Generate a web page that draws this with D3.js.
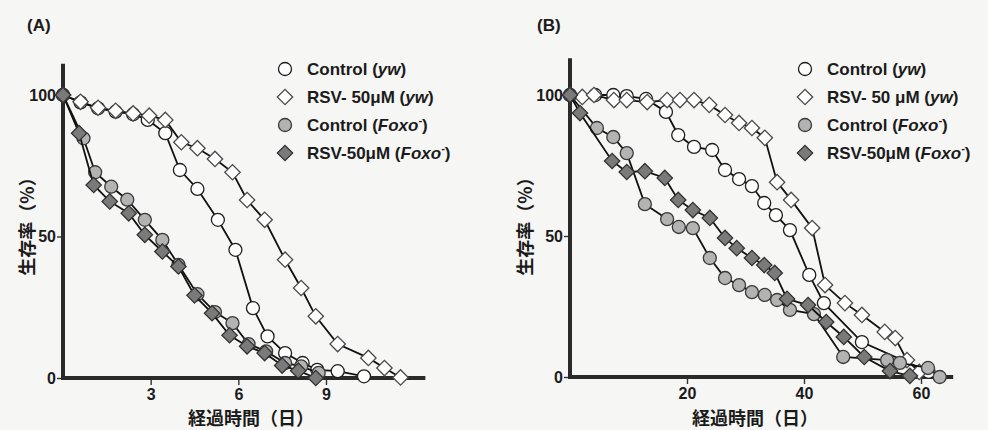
<!DOCTYPE html>
<html>
<head>
<meta charset="utf-8">
<title>生存率</title>
<script src="https://d3js.org/d3.v7.min.js"></script>
<style>
body { margin:0; background:#f6f6f4; }
svg { display:block; }
text { font-family: "Liberation Sans", Arial, sans-serif; font-weight:bold; fill:#1b1b1b; }
.jp { font-family: "Noto Sans CJK JP", sans-serif; }
</style>
</head>
<body>
<script>

// (A) 経過時間 (日), 生存率 (%)
var aControlYw  = [[0,100],[0.6,97.4],[1.2,95.3],[1.8,94.1],[2.4,93.2],[2.9,91.2],[3.5,86.5],[4.0,73.5],[4.6,66.8],[5.3,55.9],[5.9,45.3],[6.5,24.7],[7.0,14.7],[7.6,8.8],[8.2,5.3],[8.7,2.9],[9.4,2.4],[10.3,0.6]];
var aRsvYw      = [[0,100],[0.6,97.6],[1.2,95.5],[1.8,94.4],[2.4,93.5],[2.95,92.7],[3.5,91.2],[4.05,83.3],[4.6,81.2],[5.2,77.4],[5.8,72.7],[6.3,62.9],[6.9,55.9],[7.6,41.8],[8.15,31.8],[8.65,21.8],[9.4,12.0],[10.45,7.1],[11.0,3.5],[11.55,0.2]];
var aControlFox = [[0,100],[0.7,84.7],[1.1,72.7],[1.65,67.6],[2.2,63.0],[2.8,55.9],[3.4,48.8],[3.95,40.0],[4.6,29.6],[5.2,23.3],[5.8,19.4],[6.35,12.0],[6.95,9.4],[7.6,5.3],[8.15,4.1],[8.75,1.8]];
var aRsvFox     = [[0,100],[0.55,86.5],[1.05,68.2],[1.6,62.4],[2.25,58.2],[2.8,50.6],[3.4,44.7],[3.95,39.4],[4.5,29.2],[5.1,22.9],[5.7,15.1],[6.3,11.2],[6.9,8.8],[7.5,4.4],[8.05,2.6],[8.65,0]];

// (B)
var bControlYw  = [[0,100],[4.3,100],[7.4,100],[9.7,99.6],[13.0,98.6],[16.4,94.0],[18.5,85.8],[21.2,81.6],[24.3,80.5],[26.5,73.4],[28.9,70.2],[31.1,67.7],[33.2,61.7],[35.2,57.4],[37.6,52.1],[40.9,36.2],[43.4,26.2],[49.9,12.4],[61.3,1.8]];
var bRsvYw      = [[0,100],[2.1,99.3],[4.1,100],[7.5,98.2],[9.7,98.2],[13.2,97.5],[16.6,98.2],[18.8,98.2],[21.2,98.2],[23.8,96.5],[26.5,92.9],[28.9,90.1],[31.1,88.3],[33.3,84.8],[35.4,69.1],[37.8,62.8],[41.4,52.8],[43.6,32.6],[47.0,26.2],[49.9,22.0],[53.8,16.0],[55.6,13.8],[57.6,6.0],[59.7,1.8]];
var bControlFox = [[0,100],[4.6,88.3],[7.4,85.1],[9.7,79.4],[12.8,61.3],[16.6,56.0],[18.6,53.2],[21.0,52.8],[23.9,42.2],[26.5,35.1],[28.9,32.6],[31.1,30.1],[33.3,29.1],[35.4,27.3],[37.6,23.8],[41.7,22.3],[46.7,7.1],[54.2,6.0],[56.4,5.0],[61.2,3.2],[63.2,0]];
var bRsvFox     = [[0,100],[1.7,93.6],[7.2,76.6],[9.7,72.7],[12.8,73.0],[16.2,70.6],[18.5,62.8],[21.0,59.2],[23.9,56.4],[26.5,49.3],[28.5,45.7],[31.1,42.2],[33.2,39.7],[35.0,36.9],[37.1,27.7],[40.7,25.5],[43.8,19.5],[46.8,14.2],[50.3,7.1],[54.7,2.1],[58.1,0.4]];

var yTicks  = [0, 50, 100];
var aXTicks = [3, 6, 9];
var bXTicks = [20, 40, 60];

// legend: plain text, {i: italic}, {sup: superscript}
var aLegend = [["Control (", {i:"yw"}, ")"], ["RSV- 50\u03bcM (", {i:"yw"}, ")"], ["Control (", {i:"Foxo"}, {sup:"-"}, ")"], ["RSV-50\u03bcM (", {i:"Foxo"}, {sup:"-"}, ")"]];
var bLegend = [["Control (", {i:"yw"}, ")"], ["RSV- 50 \u03bcM (", {i:"yw"}, ")"], ["Control (", {i:"Foxo"}, {sup:"-"}, ")"], ["RSV-50\u03bcM (", {i:"Foxo"}, {sup:"-"}, ")"]];

var xTitle = "経過時間（日）";
var yTitle = "生存率（%）";

// marker styles, in series order: control yw, rsv yw, control foxo, rsv foxo
var styles = [
    {shape:"circle",  fill:"#ffffff", stroke:"#1e1e1e"},
    {shape:"diamond", fill:"#ffffff", stroke:"#4a4a4a"},
    {shape:"circle",  fill:"#b3b3b3", stroke:"#3a3a3a"},
    {shape:"diamond", fill:"#7a7a7a", stroke:"#333333"}
];

var svg = d3.select("body").append("svg")
            .attr("width", 988)
            .attr("height", 430);

function marker(sel, st) {
    var sym = st.shape == "circle"
        ? d3.symbol().type(d3.symbolCircle).size(133)
        : d3.symbol().type(d3.symbolSquare).size(118);
    sel.append("path")
        .attr("d", sym)
        .attr("transform", function(d) { return "translate(" + d[0] + "," + d[1] + ")" + (st.shape == "diamond" ? " rotate(45)" : ""); })
        .attr("fill", st.fill)
        .attr("stroke", st.stroke)
        .attr("stroke-width", 1.3);
}

function styleTicks(a) {
    a.select(".domain").remove();
    a.selectAll("line").attr("stroke", "#333").attr("stroke-width", 1.4);
    a.selectAll("text").style("font-size", "16px").style("font-family", null).attr("fill", "#1b1b1b");
}

function drawPanel(p) {
    var g = svg.append("g");
    var x = d3.scaleLinear().domain(p.xDomain).range(p.xRange);
    var y = d3.scaleLinear().domain([0, 100]).range(p.yRange);

    g.append("text").attr("x", p.tagX).attr("y", 31).style("font-size", "17px").text(p.tag);

    // ticks
    g.append("g")
        .attr("transform", "translate(" + x(0) + ",0)")
        .call(d3.axisLeft(y).tickValues(yTicks).tickSize(6).tickPadding(1).tickSizeOuter(0))
        .call(styleTicks);
    g.append("g")
        .attr("transform", "translate(0," + y(0) + ")")
        .call(d3.axisBottom(x).tickValues(p.xTicks).tickSize(7).tickPadding(4).tickSizeOuter(0))
        .call(styleTicks);

    // thick axis lines
    g.append("line")
        .attr("x1", x(0)).attr("x2", x(0))
        .attr("y1", y(p.yTop)).attr("y2", y(0) + 2)
        .attr("stroke", "#2a2a2a").attr("stroke-width", 4);
    g.append("line")
        .attr("x1", x(0) - 2).attr("x2", x(p.xEnd))
        .attr("y1", y(0)).attr("y2", y(0))
        .attr("stroke", "#2a2a2a").attr("stroke-width", 4);

    // titles
    g.append("text").attr("class", "jp")
        .attr("x", p.xTitleX).attr("y", 425)
        .attr("text-anchor", "middle")
        .style("font-size", "18px")
        .text(xTitle);
    g.append("text").attr("class", "jp")
        .attr("transform", "translate(" + p.yTitleX + ",222) rotate(-90)")
        .attr("text-anchor", "middle")
        .style("font-size", "18px")
        .text(yTitle);

    var line = d3.line().x(function(d) { return x(d[0]); }).y(function(d) { return y(d[1]); });

    p.series.forEach(function(s, i) {
        g.append("path")
            .attr("d", line(s))
            .attr("fill", "none")
            .attr("stroke", "#111")
            .attr("stroke-width", 1.8);
        var pts = g.append("g").selectAll("g")
            .data(s.map(function(d) { return [x(d[0]), y(d[1])]; }))
            .enter();
        marker(pts, styles[i]);
    });

    // legend
    p.legend.forEach(function(parts, i) {
        var ly = p.legY + i * 28;
        var lg = g.append("g");
        marker(lg.selectAll("x").data([[p.legX, ly]]).enter(), styles[i]);
        var t = lg.append("text")
            .attr("x", p.legX + 22).attr("y", ly + 6)
            .style("font-size", "17px");
        var shift = 0;
        parts.forEach(function(part) {
            var ts;
            if (typeof part == "string") ts = t.append("tspan").text(part);
            else if (part.i) ts = t.append("tspan").style("font-style", "italic").text(part.i);
            else {
                t.append("tspan").attr("dy", -7).style("font-size", "11px").text(part.sup);
                shift = 7;
                return;
            }
            if (shift) { ts.attr("dy", shift); shift = 0; }
        });
    });
}

drawPanel({
    tag: "(A)", tagX: 27,
    xDomain: [0, 9], xRange: [63, 326], xTicks: aXTicks, xEnd: 12.4,
    yRange: [378, 95], yTop: 111,
    xTitleX: 251, yTitleX: 34,
    legX: 285, legY: 69, legend: aLegend,
    series: [aControlYw, aRsvYw, aControlFox, aRsvFox]
});

drawPanel({
    tag: "(B)", tagX: 537,
    xDomain: [0, 60], xRange: [570, 921], xTicks: bXTicks, xEnd: 65.5,
    yRange: [377, 95], yTop: 113,
    xTitleX: 755, yTitleX: 532,
    legX: 805, legY: 69, legend: bLegend,
    series: [bControlYw, bRsvYw, bControlFox, bRsvFox]
});

</script>
</body>
</html>
